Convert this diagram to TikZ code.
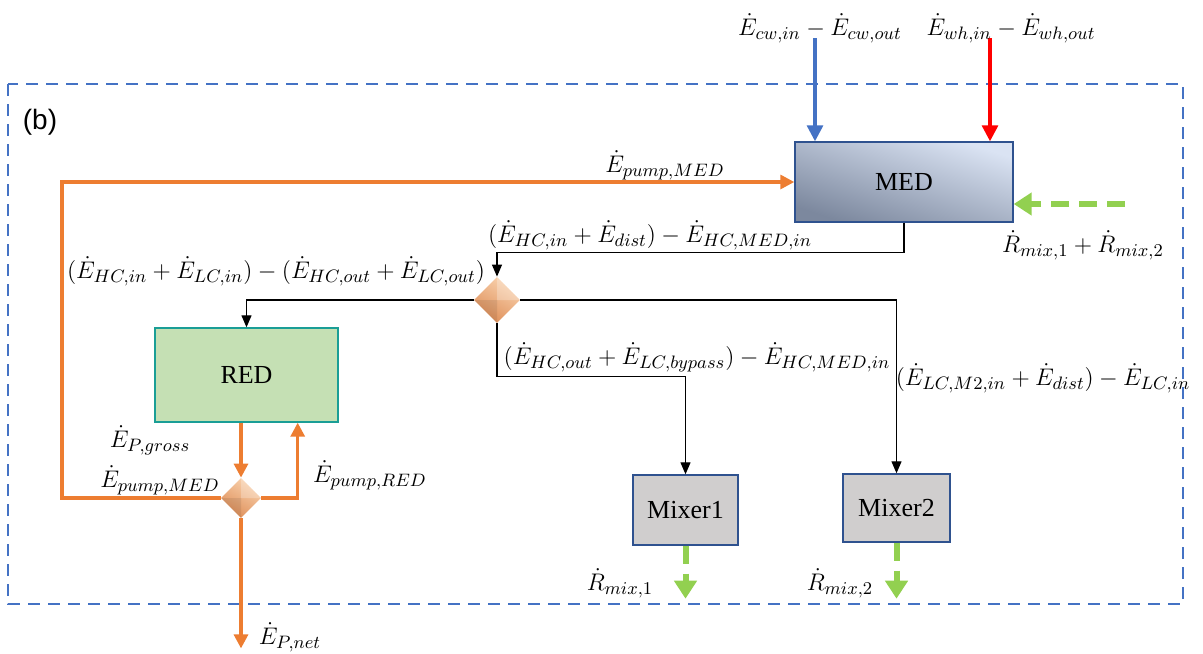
\documentclass[tikz,border=0pt]{standalone}
\usepackage{amsmath}
\usepackage{fontspec}
\setmainfont{Liberation Serif}
\newfontfamily\labfont{Liberation Sans}
\usetikzlibrary{shapes.geometric,arrows.meta,calc}

\definecolor{dashblue}{HTML}{4472C4}
\definecolor{pumporange}{HTML}{ED7D31}
\definecolor{rejgreen}{HTML}{92D050}
\definecolor{medlight}{HTML}{DAE3F3}
\definecolor{meddark}{HTML}{7C889E}
\definecolor{medborder}{HTML}{2F528F}
\definecolor{redfill}{HTML}{C5E0B4}
\definecolor{redborder}{HTML}{1A9E96}
\definecolor{mixfill}{HTML}{D0CECE}
\definecolor{splitlight}{HTML}{F9D2AE}
\definecolor{splitdark}{HTML}{DE8E58}

\tikzset{
  unitbox/.style={draw,line width=.7pt,inner sep=0pt,font=\fontsize{13}{15}\selectfont},
  splitter/.style={diamond,inner sep=0pt,draw=none,
    top color=splitlight,bottom color=splitdark,shading angle=-30,
    path picture={\fill[white,opacity=.25] (path picture bounding box.north)
      -- (path picture bounding box.center) -- (path picture bounding box.east) -- cycle;
      \fill[black,opacity=.08] (path picture bounding box.south)
      -- (path picture bounding box.center) -- (path picture bounding box.west) -- cycle;}},
  flow/.style={line width=.6pt,-{Triangle[length=6pt,width=5pt]}},
  power/.style={pumporange,line width=1.6pt,-{Triangle[length=7pt,width=7pt]}},
  reject/.style={rejgreen,line width=3pt,dash pattern=on 9pt off 5pt,-{Triangle[length=9pt,width=11pt]}},
  lab/.style={font=\fontsize{13}{15}\selectfont,inner sep=0pt}
}

\begin{document}
\begin{tikzpicture}[x=0.5pt,y=-0.5pt]
  \useasboundingbox (0,0) rectangle (1203,653);
  \draw[dashblue,line width=1pt,dash pattern=on 6pt off 4pt] (8,84) rectangle (1183,604);
  \node[font=\labfont\fontsize{14}{16}\selectfont] (tag) at (40,122) {(b)};

  % units
  \node[unitbox,draw=medborder,top color=medlight,bottom color=meddark,shading angle=-18,
    minimum width=109pt,minimum height=40pt] (med) at (904,182) {MED};
  \node[unitbox,draw=redborder,fill=redfill,minimum width=91.5pt,minimum height=47pt] (red) at (246.5,375) {RED};
  \node[unitbox,draw=medborder,fill=mixfill,minimum width=52.5pt,minimum height=35pt] (mix1) at (685.5,510) {Mixer1};
  \node[unitbox,draw=medborder,fill=mixfill,minimum width=53.5pt,minimum height=34pt] (mix2) at (896.5,508) {Mixer2};
  \node[splitter,minimum width=23pt,minimum height=23pt] (dia1) at (497,300) {};
  \node[splitter,minimum width=20pt,minimum height=20pt] (dia2) at (241,498) {};

  % streams into MED
  \coordinate (cw) at (815,38); \coordinate (wh) at (990,38); \coordinate (rm) at (1125,204);
  \draw[dashblue,line width=1.6pt,-{Triangle[length=8pt,width=8pt]}] (cw) -- (cw |- med.north);
  \draw[red,line width=1.6pt,-{Triangle[length=8pt,width=8pt]}] (wh) -- (wh |- med.north);
  \draw[reject] (rm) -- (rm -| med.east);
  \node[lab] (cwlab) at (820,28) {$\dot{E}_{cw,in}-\dot{E}_{cw,out}$};
  \node[lab] (whlab) at (1011,28) {$\dot{E}_{wh,in}-\dot{E}_{wh,out}$};
  \node[lab] (rmlab) at (1083,245) {$\dot{R}_{mix,1}+\dot{R}_{mix,2}$};

  % heat and concentrate streams
  \draw[flow] (med.south) -- ++(0,30) -| (dia1.north);
  \draw[flow] (dia1.west) -| (red.north);
  \draw[flow] (dia1.east) -| (mix2.north);
  \draw[flow] (dia1.south) -- ++(0,53) -| (mix1.north);
  \node[lab] at (650,235) {$(\dot{E}_{HC,in}+\dot{E}_{dist})-\dot{E}_{HC,MED,in}$};
  \node[lab] at (276,271) {$(\dot{E}_{HC,in}+\dot{E}_{LC,in})-(\dot{E}_{HC,out}+\dot{E}_{LC,out})$};
  \node[lab] at (697,357) {$(\dot{E}_{HC,out}+\dot{E}_{LC,bypass})-\dot{E}_{HC,MED,in}$};
  \node[lab] at (1043,378) {$(\dot{E}_{LC,M2,in}+\dot{E}_{dist})-\dot{E}_{LC,in}$};

  % power
  \draw[power] (dia2.north |- red.south) -- (dia2.north);
  \draw[power] (dia2.east) -| ([xshift=-20.5pt]red.south east);
  \draw[power] (dia2.west) -- (62,498) |- (med.west);
  \draw[power] (dia2.south) -- ++(0,130);
  \node[lab] at (665,165) {$\dot{E}_{pump,MED}$};
  \node[lab] at (150,440) {$\dot{E}_{P,gross}$};
  \node[lab] at (160,480) {$\dot{E}_{pump,MED}$};
  \node[lab] at (370,475) {$\dot{E}_{pump,RED}$};
  \node[lab] at (290,637) {$\dot{E}_{P,net}$};

  % rejected brine
  \draw[reject] (mix1.south) -- ++(0,53);
  \draw[reject] (mix2.south) -- ++(0,56);
  \node[lab] at (620,583) {$\dot{R}_{mix,1}$};
  \node[lab] at (840,583) {$\dot{R}_{mix,2}$};
\end{tikzpicture}
\end{document}
